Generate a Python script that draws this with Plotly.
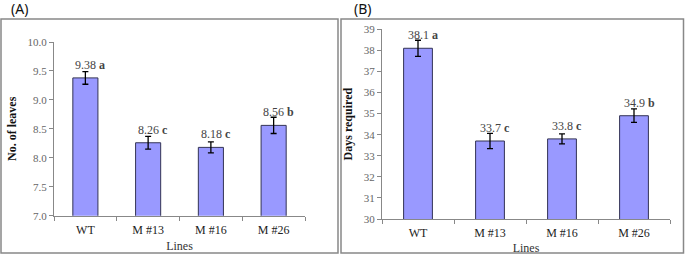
import plotly.graph_objects as go

lines = ["WT", "M #13", "M #16", "M #26"]
leaves = [9.38, 8.26, 8.18, 8.56]
leaves_err = [0.11, 0.11, 0.095, 0.14]
leaves_grp = ["a", "c", "c", "b"]
days = [38.1, 33.7, 33.8, 34.9]
days_err = [0.38, 0.36, 0.24, 0.32]
days_grp = ["a", "c", "c", "b"]
leaves_labels = ["9.38", "8.26", "8.18", "8.56"]
days_labels = ["38.1", "33.7", "33.8", "34.9"]

W, H = 685, 255
def px(x):
    return x / W
def py(y):
    return (H - y) / H

fill = "#9999FF"
edge = "#333355"
font_t = "Liberation Serif, Times New Roman, serif"

fig = go.Figure()
fig.add_trace(go.Bar(x=lines, y=leaves, marker=dict(color=fill, line=dict(color=edge, width=1)),
                     error_y=dict(type="data", array=leaves_err, color="black", thickness=1.3, width=3),
                     xaxis="x", yaxis="y", showlegend=False))
fig.add_trace(go.Bar(x=lines, y=days, marker=dict(color=fill, line=dict(color=edge, width=1)),
                     error_y=dict(type="data", array=days_err, color="black", thickness=1.3, width=3),
                     xaxis="x2", yaxis="y2", showlegend=False))

axis_common = dict(showline=True, linecolor="#888888", linewidth=1, ticks="outside",
                   ticklen=4, tickcolor="#888888", showgrid=False, zeroline=False, automargin=False)

fig.update_layout(
    width=W, height=H, margin=dict(l=0, r=0, t=0, b=0),
    paper_bgcolor="white", plot_bgcolor="white", bargap=0.6,
    xaxis=dict(domain=[px(54), px(305)], anchor="y", tickson="boundaries", ticklabelstandoff=3,
               tickfont=dict(family=font_t, size=12, color="#222"),
               title=dict(text="Lines", font=dict(family=font_t, size=12, color="#333"), standoff=5),
               **axis_common),
    yaxis=dict(domain=[py(215.7), py(42)], anchor="x", range=[7, 10], dtick=0.5, tickformat=".1f",
               tickfont=dict(family=font_t, size=11, color="#666"),
               title=dict(text="<b>No. of leaves</b>", font=dict(family=font_t, size=12, color="#111"), standoff=8),
               **axis_common),
    xaxis2=dict(domain=[px(382), px(670)], anchor="y2", tickson="boundaries", ticklabelstandoff=3,
                tickfont=dict(family=font_t, size=12, color="#222"),
                title=dict(text="Lines", font=dict(family=font_t, size=12, color="#333"), standoff=5),
                **axis_common),
    yaxis2=dict(domain=[py(219), py(29.3)], anchor="x2", range=[30, 39], dtick=1,
                tickfont=dict(family=font_t, size=11, color="#666"),
                title=dict(text="<b>Days required</b>", font=dict(family=font_t, size=12, color="#111"), standoff=8),
                **axis_common),
)

for cat, v, lab, g in zip(lines, leaves, leaves_labels, leaves_grp):
    fig.add_annotation(x=cat, y=v, xref="x", yref="y", yshift=4, yanchor="bottom", showarrow=False,
                       text=f"{lab} <b>{g}</b>", font=dict(family=font_t, size=12, color="#444"), xshift=5)
for cat, v, lab, g in zip(lines, days, days_labels, days_grp):
    fig.add_annotation(x=cat, y=v, xref="x2", yref="y2", yshift=4, yanchor="bottom", showarrow=False,
                       text=f"{lab} <b>{g}</b>", font=dict(family=font_t, size=12, color="#444"), xshift=5)

fig.add_shape(type="rect", xref="paper", yref="paper", x0=px(1), x1=px(338), y0=py(253), y1=py(19),
              line=dict(color="#888888", width=1.5))
fig.add_shape(type="rect", xref="paper", yref="paper", x0=px(341), x1=px(683.5), y0=py(253), y1=py(19),
              line=dict(color="#888888", width=1.5))
fig.add_annotation(x=px(9), y=py(8), xref="paper", yref="paper", xanchor="left", yanchor="middle",
                   showarrow=False, text="(A)", font=dict(family="Noto Sans, Arial, sans-serif", size=14, color="#111"))
fig.add_annotation(x=px(352), y=py(8), xref="paper", yref="paper", xanchor="left", yanchor="middle",
                   showarrow=False, text="(B)", font=dict(family="Noto Sans, Arial, sans-serif", size=14, color="#111"))

fig.write_html("out.html", config={"displayModeBar": False},
               post_script="document.body.style.margin='0px';")
